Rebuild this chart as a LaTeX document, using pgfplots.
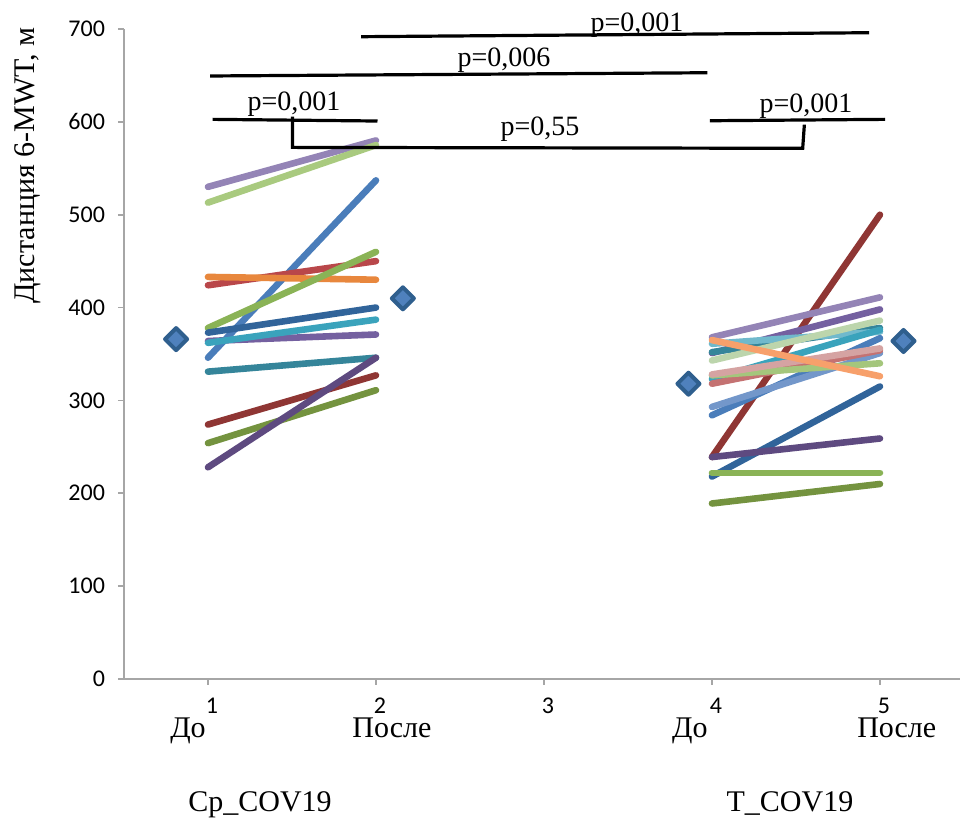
\documentclass[border=0pt]{standalone}
\usepackage{fontspec}
\setmainfont{Liberation Serif}
\newfontfamily\calibri{Carlito}
\usepackage{graphicx}
\usepackage{pgfplots}
\pgfplotsset{compat=1.18}

\definecolor{axgray}{HTML}{A6A6A6}
\definecolor{lav}{HTML}{9484B6}
\definecolor{lgreen}{HTML}{A9CA7F}
\definecolor{blue1}{HTML}{4A7DBA}
\definecolor{orange1}{HTML}{E8873D}
\definecolor{red1}{HTML}{B9474A}
\definecolor{green1}{HTML}{8AB356}
\definecolor{dblue}{HTML}{31649A}
\definecolor{aqua}{HTML}{3AA3BC}
\definecolor{purple1}{HTML}{7460A0}
\definecolor{teal1}{HTML}{35859A}
\definecolor{dred}{HTML}{8F3634}
\definecolor{olive1}{HTML}{74933F}
\definecolor{dpurple}{HTML}{5E4A80}
\definecolor{lorange}{HTML}{F7A06B}
\definecolor{lcyan}{HTML}{70B9CC}
\definecolor{sage}{HTML}{BCD5AC}
\definecolor{pink1}{HTML}{D5A3A2}
\definecolor{lgreen2}{HTML}{A4C67C}
\definecolor{rose}{HTML}{C47272}
\definecolor{lblue}{HTML}{7397CA}
\definecolor{mfill}{HTML}{4F81BD}
\definecolor{mdraw}{HTML}{2F5F8E}

\begin{document}
\begin{tikzpicture}
\useasboundingbox (-62pt,-69.5pt) rectangle (418pt,339.5pt);
\begin{axis}[
    at={(0,0)}, anchor=south west,
    scale only axis, width=418.3pt, height=325pt,
    xmin=0.5, xmax=5.48, ymin=0, ymax=700,
    axis lines=left,
    axis line style={draw=axgray, line width=0.8pt, -},
    tick style={draw=axgray, line width=0.8pt},
    tick align=outside, major tick length=3pt,
    xtick={1,2,3,4,5}, xticklabels={1,2,3,4,5},
    ytick={0,100,...,700},
    /pgf/number format/assume math mode=true,
    xticklabel style={font=\calibri\fontsize{12}{14}\selectfont, yshift=-3pt, xshift=2pt},
    yticklabel style={font=\calibri\fontsize{12}{14}\selectfont, xshift=-3pt},
    clip=false,
    lin/.style={line width=3.3pt, line cap=round, no markers},
]
% Cp_COV19: before (1) -> after (2)
\addplot[lin, lav]     coordinates {(1,530) (2,580)};
\addplot[lin, lgreen]  coordinates {(1,513) (2,575)};
\addplot[lin, blue1]   coordinates {(1,346) (2,537)};
\addplot[lin, red1]    coordinates {(1,424) (2,450)};
\addplot[lin, orange1] coordinates {(1,433) (2,430)};
\addplot[lin, green1]  coordinates {(1,378) (2,460)};
\addplot[lin, dblue]   coordinates {(1,373) (2,400)};
\addplot[lin, purple1] coordinates {(1,364) (2,371)};
\addplot[lin, aqua]    coordinates {(1,362) (2,387)};
\addplot[lin, teal1]   coordinates {(1,331) (2,346)};
\addplot[lin, dred]    coordinates {(1,274) (2,327)};
\addplot[lin, olive1]  coordinates {(1,254) (2,311)};
\addplot[lin, dpurple] coordinates {(1,228) (2,346)};
% T_COV19: before (4) -> after (5)
\addplot[lin, dred]    coordinates {(4,239) (5,500)};
\addplot[lin, lav]     coordinates {(4,368) (5,411)};
\addplot[lin, purple1] coordinates {(4,351) (5,398)};
\addplot[lin, teal1]   coordinates {(4,352) (5,378)};
\addplot[lin, lcyan]   coordinates {(4,361) (5,374)};
\addplot[lin, sage]    coordinates {(4,343) (5,386)};
\addplot[lin, aqua]    coordinates {(4,323) (5,376)};
\addplot[lin, blue1]   coordinates {(4,284) (5,367)};
\addplot[lin, lblue]   coordinates {(4,293) (5,351)};
\addplot[lin, rose]    coordinates {(4,318) (5,354)};
\addplot[lin, lgreen2] coordinates {(4,327) (5,340)};
\addplot[lin, pink1]   coordinates {(4,328) (5,356)};
\addplot[lin, lorange] coordinates {(4,365) (5,326)};
\addplot[lin, dblue]   coordinates {(4,218) (5,315)};
\addplot[lin, dpurple] coordinates {(4,239) (5,259)};
\addplot[lin, green1]  coordinates {(4,222) (5,222)};
\addplot[lin, olive1]  coordinates {(4,189) (5,210)};
% means
\addplot[only marks, mark=square*, mark size=3.9pt,
    mark options={rotate=45, fill=mfill, draw=mdraw, line width=2pt, line join=round}]
    coordinates {(0.81,366) (2.16,410) (3.86,318) (5.14,364)};

% p-value brackets
\draw[line width=1.6pt] (axis cs:1.911,691.7) -- (axis cs:4.935,696);
\draw[line width=1.6pt] (axis cs:1.012,649.4) -- (axis cs:3.973,652.9);
\draw[line width=1.6pt] (axis cs:1.027,602.7) -- (axis cs:2.009,600.9);
\draw[line width=1.6pt] (axis cs:3.988,601.2) -- (axis cs:5.030,602.7);
\draw[line width=1.6pt] (axis cs:1.503,605.5) -- (axis cs:1.503,572.5)
    -- (axis cs:4.54,571.5) -- (axis cs:4.55,597);
\node[anchor=base, font=\fontsize{14}{16}\selectfont] at (axis cs:3.554,697) {p=0,001};
\node[anchor=base, font=\fontsize{14}{16}\selectfont] at (axis cs:2.762,659.4) {p=0,006};
\node[anchor=base, font=\fontsize{14}{16}\selectfont] at (axis cs:1.512,612.7) {p=0,001};
\node[anchor=base, font=\fontsize{14}{16}\selectfont] at (axis cs:4.56,609.8) {p=0,001};
\node[anchor=base, font=\fontsize{14}{16}\selectfont] at (axis cs:2.976,584.8) {p=0,55};

% category labels
\node[anchor=base, font=\fontsize{15}{17}\selectfont] at (axis cs:0.881,-63.5) {До};
\node[anchor=base, font=\fontsize{15}{17}\selectfont] at (axis cs:2.095,-63.5) {После};
\node[anchor=base, font=\fontsize{15}{17}\selectfont] at (axis cs:3.869,-63.5) {До};
\node[anchor=base, font=\fontsize{15}{17}\selectfont] at (axis cs:5.10,-63.5) {После};
\node[anchor=base, font=\fontsize{15}{17}\selectfont] at (axis cs:1.31,-143) {Cp\_COV19};
\node[anchor=base, font=\fontsize{15}{17}\selectfont] at (axis cs:4.464,-143) {T\_COV19};
\node[rotate=90, font=\fontsize{15}{17}\selectfont] at (axis cs:-0.07,553) {Дистанция 6-MWT, м};
\end{axis}
\end{tikzpicture}
\end{document}
